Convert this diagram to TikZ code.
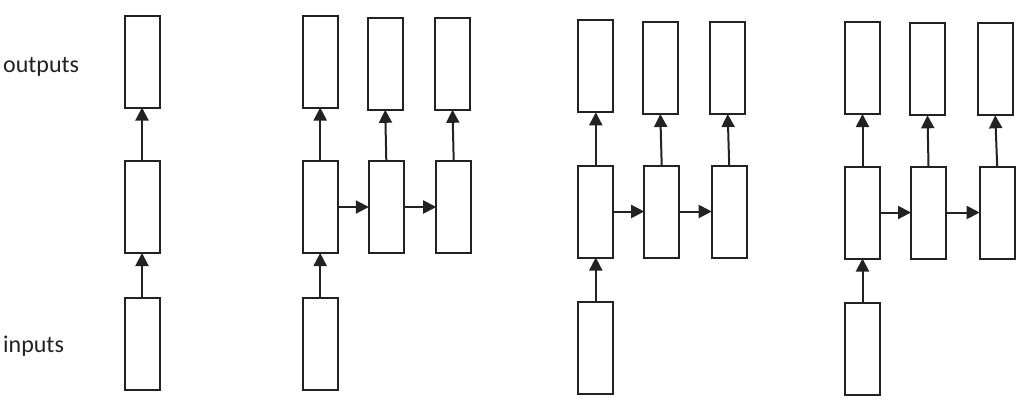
\documentclass[tikz,border=0pt]{standalone}
\usepackage{fontspec}
\setmainfont{Carlito}
\usetikzlibrary{arrows.meta}
\definecolor{ink}{HTML}{222222}
\begin{document}
\begin{tikzpicture}[x=1pt,y=-1pt,
  cell/.style={draw=ink,line width=2pt,fill=white,minimum width=35pt,minimum height=92pt,inner sep=0pt,outer sep=0pt},
  conn/.style={draw=ink,line width=2pt,-{Triangle[length=13pt,width=13pt]}},
  lbl/.style={anchor=base west,inner sep=0pt,text=ink,font=\fontsize{24}{28}\selectfont}]
\useasboundingbox (0,0) rectangle (1024,405);
% labels
\node[lbl] (outlbl) at (3,72.7) {outputs};
\node[lbl] (inlbl) at (3,352.3) {inputs};
% group 1
\node[cell] (a1t) at (142,61.5) {};
\node[cell] (a1m) at (142,207) {};
\node[cell] (a1b) at (142,344) {};
\draw[conn] (a1b.north) -- (a1m.south);
\draw[conn] (a1m.north) -- (a1t.south);
% group 2
\node[cell] (b1t) at (320.2,61.5) {};
\node[cell] (b2t) at (385.2,63.8) {};
\node[cell] (b3t) at (452.5,63.8) {};
\node[cell] (b1m) at (320.2,207) {};
\node[cell] (b2m) at (386.3,207) {};
\node[cell] (b3m) at (453.7,207) {};
\node[cell] (b1b) at (320.2,343.8) {};
\draw[conn] (b1b.north) -- (b1m.south);
\draw[conn] (b1m.north) -- (b1t.south);
\draw[conn] (b2m.north) -- (b2t.south);
\draw[conn] (b3m.north) -- (b3t.south);
\draw[conn] (b1m.east) -- (b2m.west);
\draw[conn] (b2m.east) -- (b3m.west);
% group 3
\node[cell] (c1t) at (595.8,66.3) {};
\node[cell] (c2t) at (660.3,68) {};
\node[cell] (c3t) at (727.7,68) {};
\node[cell] (c1m) at (595.8,211.5) {};
\node[cell] (c2m) at (661.7,211.5) {};
\node[cell] (c3m) at (729.2,211.5) {};
\node[cell] (c1b) at (595.8,348) {};
\draw[conn] (c1b.north) -- (c1m.south);
\draw[conn] (c1m.north) -- (c1t.south);
\draw[conn] (c2m.north) -- (c2t.south);
\draw[conn] (c3m.north) -- (c3t.south);
\draw[conn] (c1m.east) -- (c2m.west);
\draw[conn] (c2m.east) -- (c3m.west);
% group 4
\node[cell] (d1t) at (862.5,68) {};
\node[cell] (d2t) at (927.5,69.3) {};
\node[cell] (d3t) at (995.2,69.3) {};
\node[cell] (d1m) at (862.5,212.5) {};
\node[cell] (d2m) at (928.5,212.5) {};
\node[cell] (d3m) at (997.2,212.5) {};
\node[cell] (d1b) at (862.5,349.3) {};
\draw[conn] (d1b.north) -- (d1m.south);
\draw[conn] (d1m.north) -- (d1t.south);
\draw[conn] (d2m.north) -- (d2t.south);
\draw[conn] (d3m.north) -- (d3t.south);
\draw[conn] (d1m.east) -- (d2m.west);
\draw[conn] (d2m.east) -- (d3m.west);
\end{tikzpicture}
\end{document}
